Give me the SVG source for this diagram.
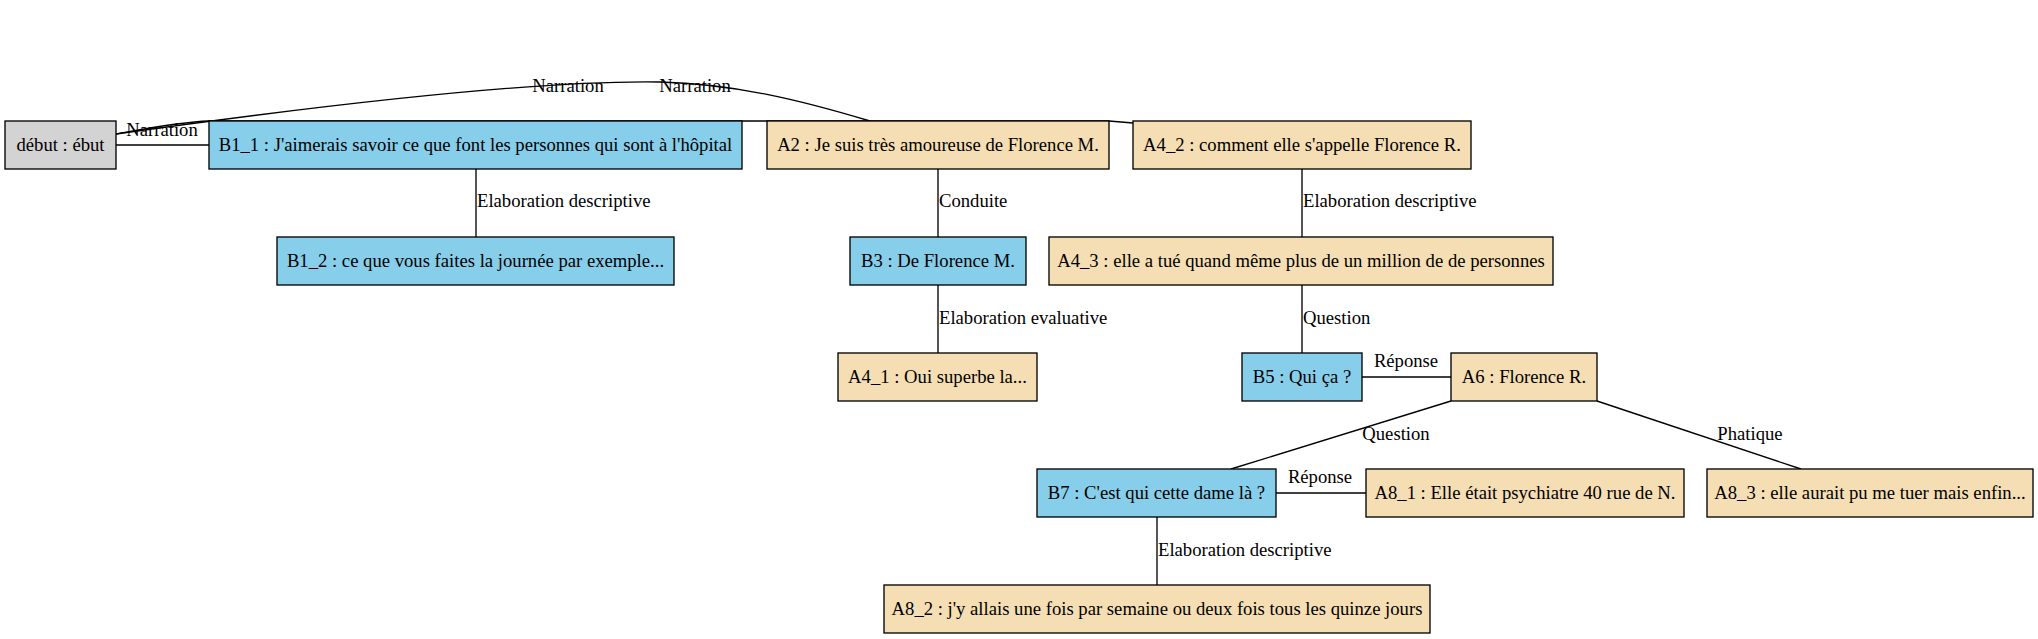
<svg xmlns="http://www.w3.org/2000/svg" width="2038" height="639" viewBox="0 0 2038 639">
<style>
.a,.b,.d{stroke:#000;stroke-width:1.33}
.a{fill:#f5deb3}
.b{fill:#87ceeb}
.d{fill:#d3d3d3}
text{font-family:"Liberation Serif","Times New Roman",Times,serif;font-size:18.67px;fill:#000}
.n{text-anchor:middle}
.lc{text-anchor:middle}
.ls{text-anchor:start}
#edges path,#edges line{stroke:#000;stroke-width:1.33;fill:none}
</style>
<rect width="2038" height="639" fill="#fff"/>
<g id="edges">
<line x1="116" y1="145" x2="209" y2="145"/>
<text class="lc" x="162" y="136">Narration</text>
<path d="M116,134 C150,128 180,122 209,121 L1109,121 L1133,123"/>
<path d="M116,134 C330,104 540,80 660,82 C735,84 800,100 870,121"/>
<text class="lc" x="568" y="92">Narration</text>
<text class="lc" x="695" y="92">Narration</text>
<line x1="476" y1="169" x2="476" y2="237"/>
<text class="ls" x="477" y="207">Elaboration descriptive</text>
<line x1="938" y1="169" x2="938" y2="237"/>
<text class="ls" x="939" y="207">Conduite</text>
<line x1="938" y1="285" x2="938" y2="353"/>
<text class="ls" x="939" y="324">Elaboration evaluative</text>
<line x1="1302" y1="169" x2="1302" y2="237"/>
<text class="ls" x="1303" y="207">Elaboration descriptive</text>
<line x1="1302" y1="285" x2="1302" y2="353"/>
<text class="ls" x="1303" y="324">Question</text>
<line x1="1362" y1="377" x2="1451" y2="377"/>
<text class="lc" x="1406" y="367">Réponse</text>
<line x1="1451" y1="401" x2="1231" y2="469"/>
<text class="lc" x="1396" y="440">Question</text>
<line x1="1597" y1="401" x2="1801" y2="469"/>
<text class="lc" x="1750" y="440">Phatique</text>
<line x1="1276" y1="493" x2="1366" y2="493"/>
<text class="lc" x="1320" y="483">Réponse</text>
<line x1="1157" y1="517" x2="1157" y2="585"/>
<text class="ls" x="1158" y="556">Elaboration descriptive</text>
</g>
<g id="debut"><rect class="d" x="5" y="121" width="111" height="48"/><text class="n" x="60.5" y="150.6">début : ébut</text></g>
<g id="B1_1"><rect class="b" x="209" y="121" width="533" height="48"/><text class="n" x="475.5" y="150.6">B1_1 : J'aimerais savoir ce que font les personnes qui sont à l'hôpital</text></g>
<g id="A2"><rect class="a" x="767" y="121" width="342" height="48"/><text class="n" x="938" y="150.6">A2 : Je suis très amoureuse de Florence M.</text></g>
<g id="A4_2"><rect class="a" x="1133" y="121" width="338" height="48"/><text class="n" x="1302" y="150.6">A4_2 : comment elle s'appelle Florence R.</text></g>
<g id="B1_2"><rect class="b" x="277" y="237" width="397" height="48"/><text class="n" x="475.5" y="266.6">B1_2 : ce que vous faites la journée par exemple...</text></g>
<g id="B3"><rect class="b" x="850" y="237" width="176" height="48"/><text class="n" x="938" y="266.6">B3 : De Florence M.</text></g>
<g id="A4_3"><rect class="a" x="1049" y="237" width="504" height="48"/><text class="n" x="1301" y="266.6">A4_3 : elle a tué quand même plus de un million de de personnes</text></g>
<g id="A4_1"><rect class="a" x="838" y="353" width="199" height="48"/><text class="n" x="937.5" y="382.6">A4_1 : Oui superbe la...</text></g>
<g id="B5"><rect class="b" x="1242" y="353" width="120" height="48"/><text class="n" x="1302" y="382.6">B5 : Qui ça ?</text></g>
<g id="A6"><rect class="a" x="1451" y="353" width="146" height="48"/><text class="n" x="1524" y="382.6">A6 : Florence R.</text></g>
<g id="B7"><rect class="b" x="1037" y="469" width="239" height="48"/><text class="n" x="1156.5" y="498.6">B7 : C'est qui cette dame là ?</text></g>
<g id="A8_1"><rect class="a" x="1366" y="469" width="318" height="48"/><text class="n" x="1525" y="498.6">A8_1 : Elle était psychiatre 40 rue de N.</text></g>
<g id="A8_3"><rect class="a" x="1707" y="469" width="326" height="48"/><text class="n" x="1870" y="498.6">A8_3 : elle aurait pu me tuer mais enfin...</text></g>
<g id="A8_2"><rect class="a" x="884" y="585" width="546" height="48"/><text class="n" x="1157" y="614.6">A8_2 : j'y allais une fois par semaine ou deux fois tous les quinze jours</text></g>
</svg>
